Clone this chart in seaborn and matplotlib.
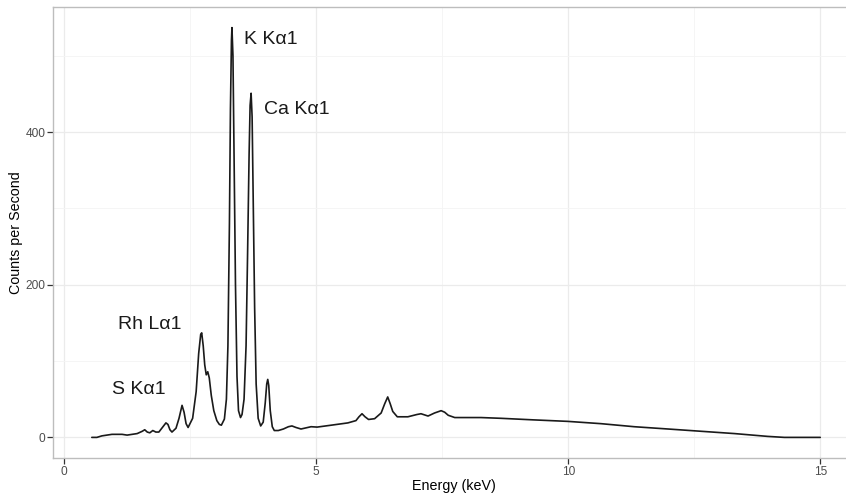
import seaborn as sns
import matplotlib
matplotlib.use('Agg')
import matplotlib.pyplot as plt
import pandas as pd
from matplotlib.ticker import MultipleLocator

# spectrum (keV, counts per second)
energy = [0.55, 0.65, 0.75, 0.85, 0.95, 1.05, 1.15, 1.25, 1.35, 1.45,
          1.55, 1.60, 1.65, 1.70, 1.76, 1.82, 1.88, 1.95, 2.02, 2.06,
          2.10, 2.14, 2.22, 2.28, 2.34, 2.38, 2.42, 2.46, 2.55, 2.62,
          2.67, 2.71, 2.73, 2.76, 2.79, 2.82, 2.85, 2.88, 2.92, 2.97,
          3.03, 3.08, 3.12, 3.18, 3.22, 3.25, 3.28, 3.30, 3.32, 3.33,
          3.35, 3.37, 3.40, 3.43, 3.46, 3.50, 3.53, 3.57, 3.61, 3.64,
          3.67, 3.69, 3.71, 3.73, 3.75, 3.78, 3.81, 3.85, 3.90, 3.95,
          3.99, 4.02, 4.04, 4.06, 4.09, 4.13, 4.17, 4.25, 4.35, 4.45,
          4.52, 4.60, 4.70, 4.90, 5.02, 5.30, 5.63, 5.79, 5.85, 5.91,
          5.97, 6.04, 6.16, 6.29, 6.36, 6.42, 6.47, 6.52, 6.61, 6.82,
          7.00, 7.08, 7.22, 7.35, 7.48, 7.55, 7.62, 7.75, 7.90, 8.27,
          8.67, 9.30, 9.99, 10.65, 11.31, 11.98, 12.64, 13.30, 13.96, 14.29,
          15.00]
cps = [0, 0, 2, 3, 4, 4, 4, 3, 4, 5,
       8, 10, 7, 6, 9, 7, 7, 13, 19, 17,
       10, 7, 12, 25, 42, 33, 18, 13, 25, 60,
       110, 135, 137, 120, 95, 82, 86, 78, 55, 35,
       22, 17, 16, 24, 50, 120, 280, 430, 520, 537,
       500, 380, 200, 80, 35, 26, 30, 50, 120, 240,
       370, 435, 451, 420, 320, 170, 70, 25, 15, 20,
       45, 70, 76, 68, 35, 14, 9, 9, 11, 14,
       15, 13, 11, 14, 13.5, 16, 19, 22, 27, 31,
       27, 23.5, 24.5, 32, 44, 53, 44, 34, 27, 27,
       30, 31, 28, 32, 35, 33, 29, 26, 26, 26,
       25, 23, 21, 18, 14, 11, 8, 5, 1.3, 0,
       0]

labels = ['K Kα1', 'Ca Kα1', 'Rh Lα1', 'S Kα1']
label_x = [3.57, 3.97, 1.07, 0.95]
label_y = [521, 430, 148, 63]

df = pd.DataFrame({'Energy (keV)': energy, 'Counts per Second': cps})

sns.set_theme(style='white')
plt.rcParams['font.family'] = ['Liberation Sans', 'DejaVu Sans']

fig = plt.figure(figsize=(8.46, 4.96), dpi=100)
ax = fig.add_axes([53/846, 38/496, 802/846, 451/496])

sns.lineplot(data=df, x='Energy (keV)', y='Counts per Second', ax=ax,
             color='#1a1a1a', linewidth=1.2)

for t, x, y in zip(labels, label_x, label_y):
    ax.text(x, y, t, fontsize=14, ha='left', va='center', color='#1a1a1a')

ax.set_xlim(-0.22, 15.69)
ax.set_ylim(-27, 564)
ax.xaxis.set_major_locator(MultipleLocator(5))
ax.xaxis.set_minor_locator(MultipleLocator(2.5))
ax.yaxis.set_major_locator(MultipleLocator(200))
ax.yaxis.set_minor_locator(MultipleLocator(100))
ax.grid(which='major', color='#ebebeb', linewidth=0.9)
ax.grid(which='minor', color='#f4f4f4', linewidth=0.6)
ax.set_axisbelow(True)

for s in ax.spines.values():
    s.set_color('#bdbdbd')
    s.set_linewidth(1.0)
ax.spines['right'].set_visible(False)

ax.tick_params(which='major', direction='out', length=4, width=0.9,
               color='#333333', labelcolor='#4d4d4d', labelsize=8.6,
               bottom=True, left=True, pad=1.5)
ax.tick_params(which='minor', length=0)
ax.set_xlabel('Energy (keV)', fontsize=10.3, color='black', labelpad=1)
ax.set_ylabel('Counts per Second', fontsize=10.3, color='black', labelpad=2)

fig.savefig('out.png', dpi=100)
